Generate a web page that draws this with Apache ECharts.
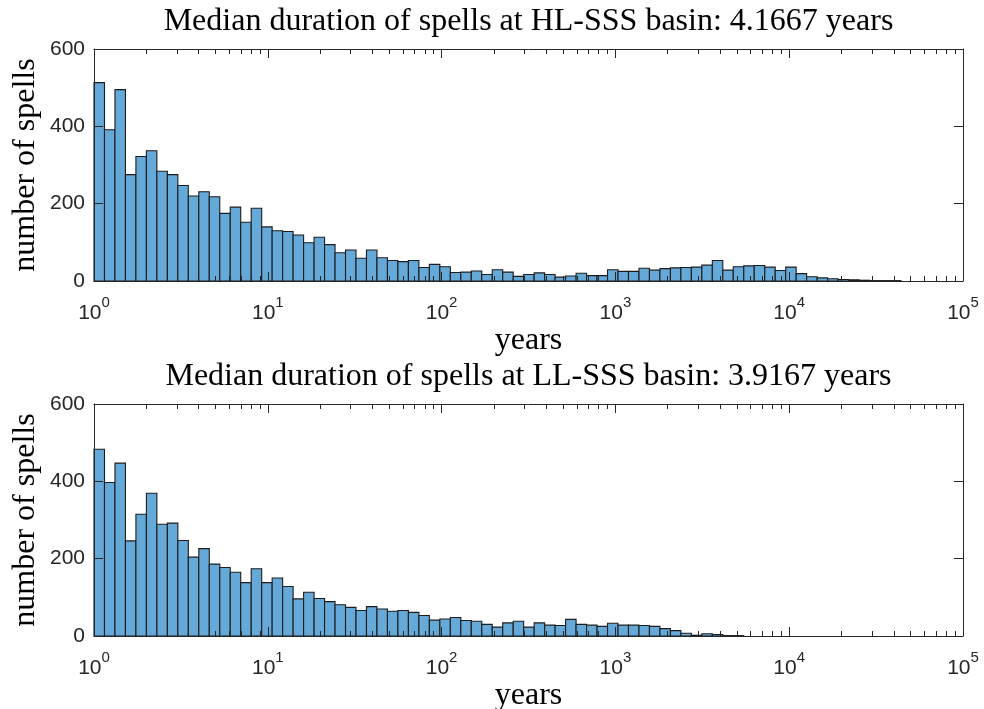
<!DOCTYPE html>
<html>
<head>
<meta charset="utf-8">
<script src="https://cdn.jsdelivr.net/npm/echarts@6/dist/echarts.min.js"></script>
<style>
  html, body { margin: 0; padding: 0; background: #ffffff; }
  #chart { width: 984px; height: 709px; }
</style>
</head>
<body>
<div id="chart"></div>
<script>
// ---------------- data ----------------
// Histogram bins are uniform in log10(years): first edge at 10^0
const binStartLog = 0;
const binWidthLog = 0.0603;

const titles = [
  'Median duration of spells at HL-SSS basin: 4.1667 years',
  'Median duration of spells at LL-SSS basin: 3.9167 years'
];
const xLabelText = 'years';
const yLabelText = 'number of spells';

const xTickExponents = [0, 1, 2, 3, 4, 5];
const yTicks = [0, 200, 400, 600];

// counts per bin, HL-SSS basin (top panel)
const countsHL = [
  513, 391, 495, 275, 322, 337, 284, 275, 247, 220,
  231, 218, 175, 191, 152, 188, 140, 130, 128, 119,
  99, 113, 94, 73, 80, 59, 80, 60, 53, 50,
  53, 35, 43, 37, 22, 23, 26, 17, 29, 23,
  12, 17, 21, 17, 10, 13, 20, 14, 14, 29,
  25, 25, 33, 28, 32, 34, 35, 36, 41, 53,
  28, 37, 39, 40, 36, 27, 36, 19, 11, 8,
  6, 4, 3, 2, 1, 1, 1
];

// counts per bin, LL-SSS basin (bottom panel)
const countsLL = [
  483, 397, 447, 246, 315, 369, 289, 292, 247, 204,
  226, 186, 177, 165, 138, 174, 138, 150, 128, 96,
  113, 97, 89, 81, 74, 66, 76, 70, 64, 66,
  61, 53, 41, 44, 48, 40, 38, 30, 23, 34,
  38, 23, 34, 28, 27, 43, 30, 28, 25, 33,
  28, 28, 27, 25, 19, 14, 7, 2, 6, 4,
  1, 1
];

// ---------------- styling / layout ----------------
const AX = '#262626';
const SANS = 'Liberation Sans, Arial, Helvetica, sans-serif';
const SERIF = 'Liberation Serif, Times New Roman, serif';
const BAR_FILL = '#64A9D8';
const BAR_EDGE = '#1c1c1c';
const SERIF_SIZE = 32;

const plotLeft = 94, plotWidth = 869, plotHeight = 232;
const plotTops = [49, 404];

const minorTickValues = [];
for (let n = 0; n < 5; n++) {
  for (let k = 2; k <= 9; k++) minorTickValues.push(n + Math.log10(k));
}

function binData(counts) {
  return counts.map((c, i) => [
    binStartLog + i * binWidthLog,
    binStartLog + (i + 1) * binWidthLog,
    c
  ]);
}

const grids = [], xAxes = [], yAxes = [], series = [], graphics = [];

plotTops.forEach((top, g) => {
  grids.push({ left: plotLeft, top: top, width: plotWidth, height: plotHeight, containLabel: false });
  const baseX = {
    gridIndex: g, type: 'value', min: 0, max: 5, interval: 1, z: 10,
    splitLine: { show: false }, minorTick: { show: false }
  };
  // bottom major ticks + labels
  xAxes.push(Object.assign({}, baseX, {
    position: 'bottom',
    axisLine: { show: true, onZero: false, lineStyle: { color: AX, width: 1 } },
    axisTick: { show: true, inside: true, length: 9, lineStyle: { color: AX } },
    axisLabel: {
      show: true, margin: 14,
      formatter: v => '{b|10}{s|' + v + '}',
      rich: {
        b: { fontFamily: SANS, fontSize: 21, color: AX, lineHeight: 29, verticalAlign: 'bottom' },
        s: { fontFamily: SANS, fontSize: 15, color: AX, lineHeight: 16, verticalAlign: 'top' }
      }
    }
  }));
  // bottom minor ticks
  xAxes.push(Object.assign({}, baseX, {
    position: 'bottom',
    axisLine: { show: false, onZero: false },
    axisTick: { show: true, inside: true, length: 5, customValues: minorTickValues, lineStyle: { color: AX } },
    axisLabel: { show: false }
  }));
  // top major ticks (box)
  xAxes.push(Object.assign({}, baseX, {
    position: 'top',
    axisLine: { show: true, onZero: false, lineStyle: { color: AX, width: 1 } },
    axisTick: { show: true, inside: true, length: 9, lineStyle: { color: AX } },
    axisLabel: { show: false }
  }));
  // top minor ticks
  xAxes.push(Object.assign({}, baseX, {
    position: 'top',
    axisLine: { show: false, onZero: false },
    axisTick: { show: true, inside: true, length: 5, customValues: minorTickValues, lineStyle: { color: AX } },
    axisLabel: { show: false }
  }));

  const baseY = {
    gridIndex: g, type: 'value', min: yTicks[0], max: yTicks[yTicks.length - 1], interval: 200, z: 10,
    splitLine: { show: false }
  };
  yAxes.push(Object.assign({}, baseY, {
    position: 'left',
    axisLine: { show: true, onZero: false, lineStyle: { color: AX, width: 1 } },
    axisTick: { show: true, inside: true, length: 9, lineStyle: { color: AX } },
    axisLabel: { show: true, margin: 9, fontFamily: SANS, fontSize: 21, color: AX, padding: [4, 0, 0, 0] }
  }));
  yAxes.push(Object.assign({}, baseY, {
    position: 'right',
    axisLine: { show: true, onZero: false, lineStyle: { color: AX, width: 1 } },
    axisTick: { show: true, inside: true, length: 9, lineStyle: { color: AX } },
    axisLabel: { show: false }
  }));

  series.push({
    type: 'custom',
    xAxisIndex: g * 4,
    yAxisIndex: g * 2,
    data: binData(g === 0 ? countsHL : countsLL),
    encode: { x: [0, 1], y: 2 },
    z: 2,
    renderItem: (params, api) => {
      const p0 = api.coord([api.value(0), api.value(2)]);
      const p1 = api.coord([api.value(1), 0]);
      return {
        type: 'rect',
        shape: { x: p0[0], y: p0[1], width: p1[0] - p0[0], height: p1[1] - p0[1] },
        style: { fill: BAR_FILL, stroke: BAR_EDGE, lineWidth: 1.1 }
      };
    }
  });

  const cx = plotLeft + plotWidth / 2;
  graphics.push({
    type: 'text', x: cx, y: top - 27, z: 20,
    style: { text: titles[g], font: SERIF_SIZE + 'px ' + SERIF, fill: '#000', align: 'center', verticalAlign: 'middle' }
  });
  graphics.push({
    type: 'text', x: cx, y: top + plotHeight + 60, z: 20,
    style: { text: xLabelText, font: SERIF_SIZE + 'px ' + SERIF, fill: '#000', align: 'center', verticalAlign: 'middle' }
  });
  graphics.push({
    type: 'text', x: 26, y: top + plotHeight / 2, rotation: Math.PI / 2, z: 20,
    style: { text: yLabelText, font: SERIF_SIZE + 'px ' + SERIF, fill: '#000', align: 'center', verticalAlign: 'middle' }
  });
});

const chart = echarts.init(document.getElementById('chart'), null, { renderer: 'canvas' });
chart.setOption({
  backgroundColor: '#ffffff',
  animation: false,
  grid: grids,
  xAxis: xAxes,
  yAxis: yAxes,
  series: series,
  graphic: graphics
});
</script>
</body>
</html>
